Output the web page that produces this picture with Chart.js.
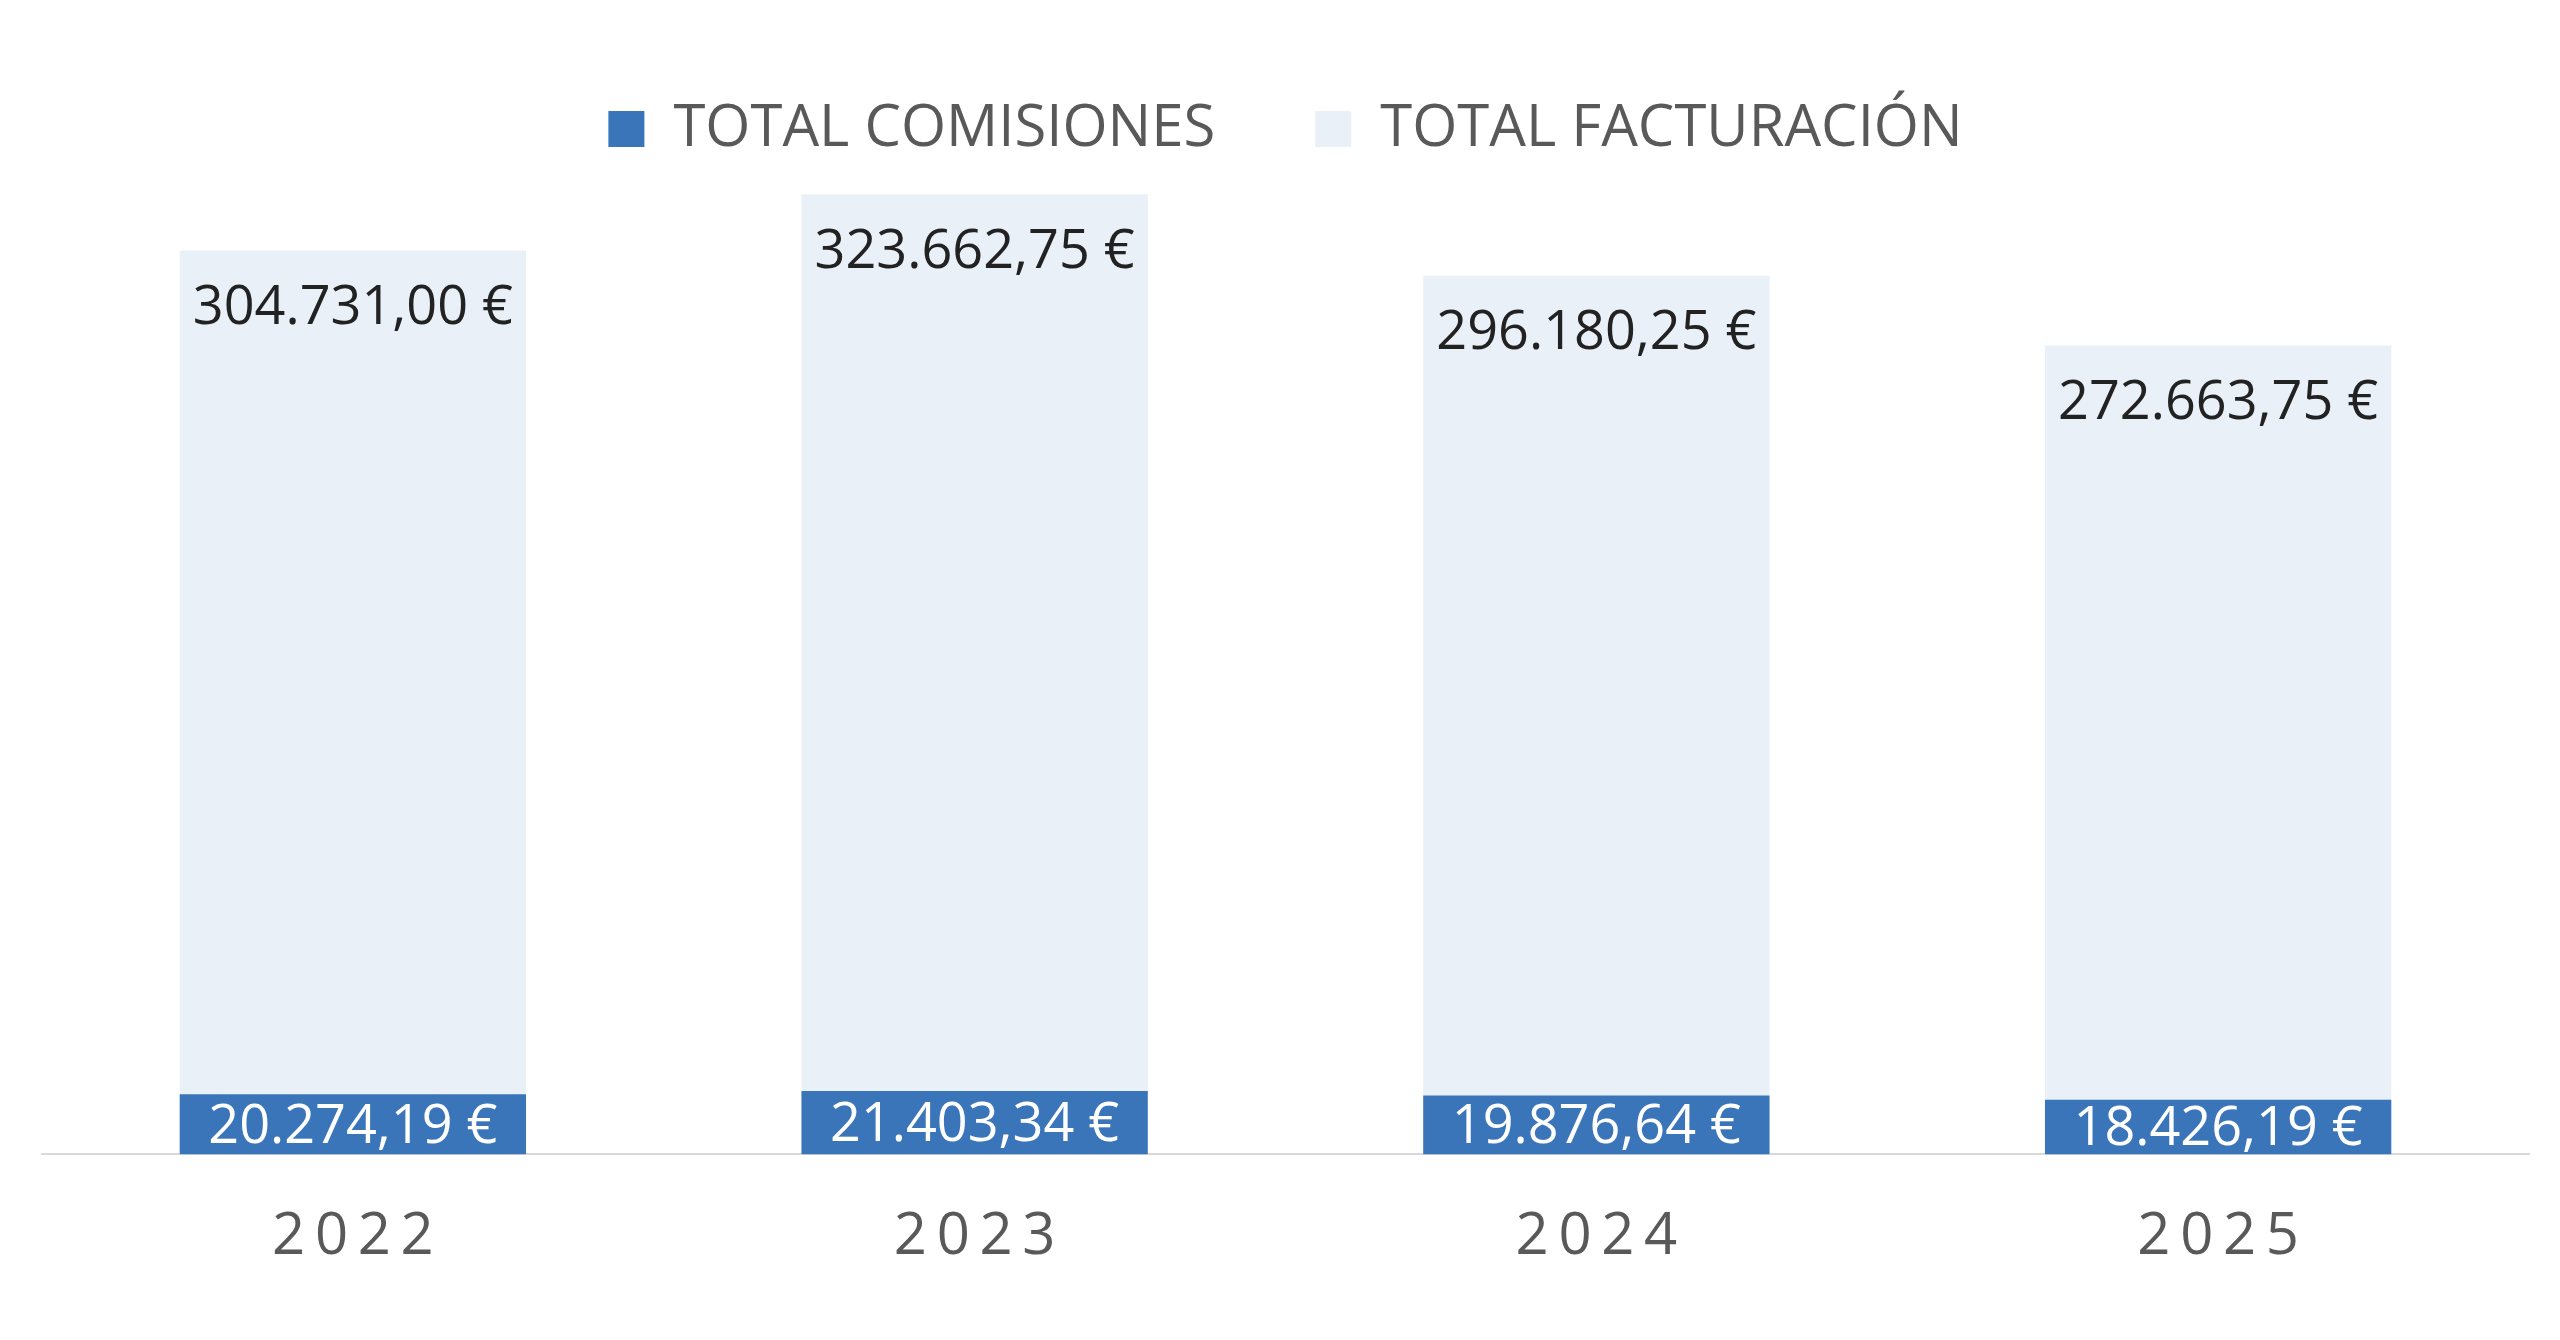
<!DOCTYPE html>
<html><head><meta charset="utf-8">
<script src="https://cdn.jsdelivr.net/npm/chart.js@4"></script>
<style>html,body{margin:0;background:#fff}#w{width:2560px;height:1340px}</style>
</head><body><div id="w"><canvas id="c"></canvas></div>
<script>
const categories = ['2022','2023','2024','2025'];
const comisiones = [20274.19, 21403.34, 19876.64, 18426.19];
const facturacion = [304731.00, 323662.75, 296180.25, 272663.75];
const fmt = v => v.toLocaleString('de-DE',{minimumFractionDigits:2,maximumFractionDigits:2}) + ' €';
const labelPlugin = {
  id:'lbl',
  afterDatasetsDraw(chart){
    const ctx = chart.ctx;
    ctx.save();
    ctx.font = '54px "Open Sans", "Liberation Sans", sans-serif';
    ctx.textAlign = 'center'; ctx.textBaseline = 'middle';
    chart.getDatasetMeta(1).data.forEach((b,i)=>{
      ctx.fillStyle = '#222';
      ctx.fillText(fmt(facturacion[i]), b.x, b.y + 58);
    });
    chart.getDatasetMeta(0).data.forEach((b,i)=>{
      ctx.fillStyle = '#fff';
      ctx.fillText(fmt(comisiones[i]), b.x, (b.y + b.base)/2 + 3);
    });
    ctx.restore();
  }
};
new Chart(document.getElementById('c'), {
  type:'bar',
  data:{labels:categories, datasets:[
    {label:'TOTAL COMISIONES', data:comisiones, backgroundColor:'#3A75B9', categoryPercentage:0.557, barPercentage:1},
    {label:'TOTAL FACTURACIÓN', data:facturacion, backgroundColor:'#E9F0F8', categoryPercentage:0.557, barPercentage:1}
  ]},
  options:{
    responsive:true, maintainAspectRatio:false, animation:false,
    layout:{padding:{left:42,right:31,top:0,bottom:20}},
    plugins:{
      legend:{position:'top', labels:{font:{size:58, family:'"Open Sans", "Liberation Sans", sans-serif'}, color:'#595959', boxWidth:36, boxHeight:36, padding:100, useBorderRadius:false}},
      tooltip:{enabled:false}
    },
    scales:{
      x:{stacked:true, grid:{display:false, drawTicks:false}, border:{color:'#d9d9d9', width:2},
         ticks:{color:'#595959', padding:48, font:{size:58, family:'"Open Sans", "Liberation Sans", sans-serif'}, callback:(v,i)=>categories[i].split('').join('\u2009')}},
      y:{display:false, min:0, max:332500}
    }
  },
  plugins:[labelPlugin]
});
</script></body></html>
